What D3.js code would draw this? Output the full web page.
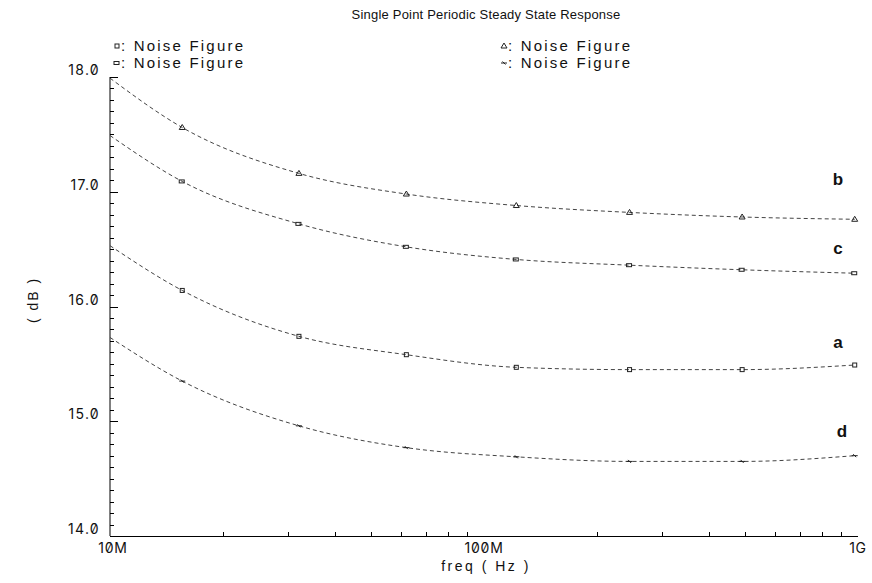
<!DOCTYPE html>
<html>
<head>
<meta charset="utf-8">
<script src="https://cdn.jsdelivr.net/npm/d3@7"></script>
<style>
  body { margin: 0; background: #fff; }
  text { font-family: "Liberation Sans", Arial, sans-serif; fill: #111; }
  .num { font-family: Inter, "Liberation Sans", sans-serif; font-feature-settings: "zero" 1; }
</style>
</head>
<body>
<div id="chart"></div>
<script>
// frequencies (Hz) of the sampled points
const freqs = [10e6, 15.6e6, 32e6, 62e6, 122e6, 245e6, 490e6, 980e6];

// noise figure (dB) per curve
const nfA = [16.53, 16.14, 15.74, 15.58, 15.47, 15.45, 15.45, 15.49];
const nfB = [17.99, 17.56, 17.16, 16.98, 16.88, 16.82, 16.78, 16.76];
const nfC = [17.49, 17.09, 16.72, 16.52, 16.41, 16.36, 16.32, 16.29];
const nfD = [15.73, 15.35, 14.96, 14.77, 14.69, 14.65, 14.65, 14.70];

const seriesNames = ["a", "b", "c", "d"];
const yTicks = [14, 15, 16, 17, 18];
const xTicks = [10e6, 100e6, 1e9];
const xTickLabels = ["10M", "100M", "1G"];

const W = 872, H = 583;
const margin = { top: 77, right: 14, bottom: 47, left: 110 };

const svg = d3.select("#chart").append("svg")
    .attr("width", W).attr("height", H);

const x = d3.scaleLog().domain([10e6, 1e9]).range([margin.left, 858]);
const y = d3.scaleLinear().domain([14, 18]).range([536, margin.top]);

// title
svg.append("text")
    .attr("x", 486).attr("y", 19)
    .attr("text-anchor", "middle")
    .style("font-size", "13px")
    .style("letter-spacing", "0.2px")
    .text("Single Point Periodic Steady State Response");

// y axis with inward ticks
const yAxis = svg.append("g").attr("transform", `translate(${margin.left},0)`);
yAxis.append("line")
    .attr("x1", 0).attr("x2", 0)
    .attr("y1", y(18)).attr("y2", y(14))
    .attr("stroke", "#000");
const yMinor = d3.range(140, 181).map(d => d / 10);
yAxis.selectAll(".ymin").data(yMinor).enter().append("line")
    .attr("x1", 0)
    .attr("x2", d => Math.abs(d - Math.round(d)) < 1e-6 ? 8 : 4)
    .attr("y1", d => Math.round(y(d)) + 0.5)
    .attr("y2", d => Math.round(y(d)) + 0.5)
    .attr("stroke", "#000");
yAxis.selectAll(".ylab").data(yTicks).enter().append("text")
    .attr("class", "num")
    .attr("x", -10).attr("y", d => y(d) - 2)
    .attr("text-anchor", "end")
    .style("font-size", "14px")
    .style("letter-spacing", "1.3px")
    .text(d => d.toFixed(1));

// x axis with inward ticks
const xAxis = svg.append("g");
xAxis.append("line")
    .attr("x1", x(10e6)).attr("x2", x(1e9))
    .attr("y1", 536.5).attr("y2", 536.5)
    .attr("stroke", "#000");
const xMinor = [];
[10e6, 100e6].forEach(dec => { for (let k = 2; k <= 9; k++) xMinor.push(dec * k); });
xAxis.selectAll(".xmin").data(xMinor).enter().append("line")
    .attr("x1", d => Math.round(x(d)) + 0.5).attr("x2", d => Math.round(x(d)) + 0.5)
    .attr("y1", 536).attr("y2", 532)
    .attr("stroke", "#000");
xAxis.selectAll(".xlab").data(xTicks).enter().append("text")
    .attr("class", "num")
    .attr("x", d => x(d)).attr("y", 553)
    .attr("text-anchor", "middle")
    .attr("dx", (d, i) => i === 0 ? 3 : 0)
    .style("font-size", "14px")
    .style("letter-spacing", "0.8px")
    .text((d, i) => xTickLabels[i]);

// axis titles
svg.append("text")
    .attr("x", 486).attr("y", 571)
    .attr("text-anchor", "middle")
    .style("font-size", "14px")
    .style("letter-spacing", "2.5px")
    .text("freq ( Hz )");
svg.append("text")
    .attr("transform", "translate(38,300) rotate(-90)")
    .attr("text-anchor", "middle")
    .style("font-size", "14px")
    .style("letter-spacing", "2px")
    .text("( dB )");

// curves
const allSeries = [nfA, nfB, nfC, nfD];
const line = d3.line()
    .x((d, i) => x(freqs[i]))
    .y(d => y(d))
    .curve(d3.curveMonotoneX);

const lineColor = "#444";
allSeries.forEach(vals => {
    svg.append("path")
        .attr("d", line(vals))
        .attr("fill", "none")
        .attr("stroke", lineColor)
        .attr("stroke-width", 1)
        .attr("stroke-dasharray", "4,3");
});

// tiny markers, one shape per series
function drawMarker(g, kind, cx, cy) {
    if (kind === "a") {
        g.append("rect").attr("x", cx - 2).attr("y", cy - 2).attr("width", 4).attr("height", 4)
            .attr("fill", "none").attr("stroke", "#222");
    } else if (kind === "b") {
        g.append("path").attr("d", `M${cx - 3},${cy + 2}L${cx},${cy - 3}L${cx + 3},${cy + 2}Z`)
            .attr("fill", "none").attr("stroke", "#222");
    } else if (kind === "c") {
        g.append("rect").attr("x", cx - 3).attr("y", cy - 1.5).attr("width", 5).attr("height", 3)
            .attr("fill", "none").attr("stroke", "#222");
    } else {
        g.append("path").attr("d", `M${cx - 3},${cy}L${cx + 3},${cy}M${cx - 1.5},${cy - 1.5}L${cx + 1.5},${cy + 1.5}`)
            .attr("fill", "none").attr("stroke", "#222");
    }
}
const mk = svg.append("g");
allSeries.forEach((vals, s) => {
    vals.forEach((v, i) => {
        if (i === 0) return;
        drawMarker(mk, seriesNames[s], x(freqs[i]), y(v));
    });
});

// curve labels
const labelPos = { a: 15.64, b: 17.06, c: 16.46, d: 14.86 };
seriesNames.forEach(n => {
    svg.append("text")
        .attr("x", n === "d" ? 842 : 838)
        .attr("y", y(labelPos[n]))
        .attr("text-anchor", "middle")
        .style("font-size", "17px")
        .style("font-weight", "bold")
        .text(n);
});

// legend
const legend = [
    { s: "a", x: 117, y: 46 },
    { s: "b", x: 504, y: 46 },
    { s: "c", x: 117, y: 63 },
    { s: "d", x: 504, y: 63 }
];
legend.forEach(l => {
    drawMarker(svg, l.s, l.x, l.y);
    svg.append("text")
        .attr("x", l.x + 4).attr("y", l.y + 5)
        .style("font-size", "15px")
        .style("letter-spacing", "2.2px")
        .text(": Noise Figure");
});
</script>
</body>
</html>
